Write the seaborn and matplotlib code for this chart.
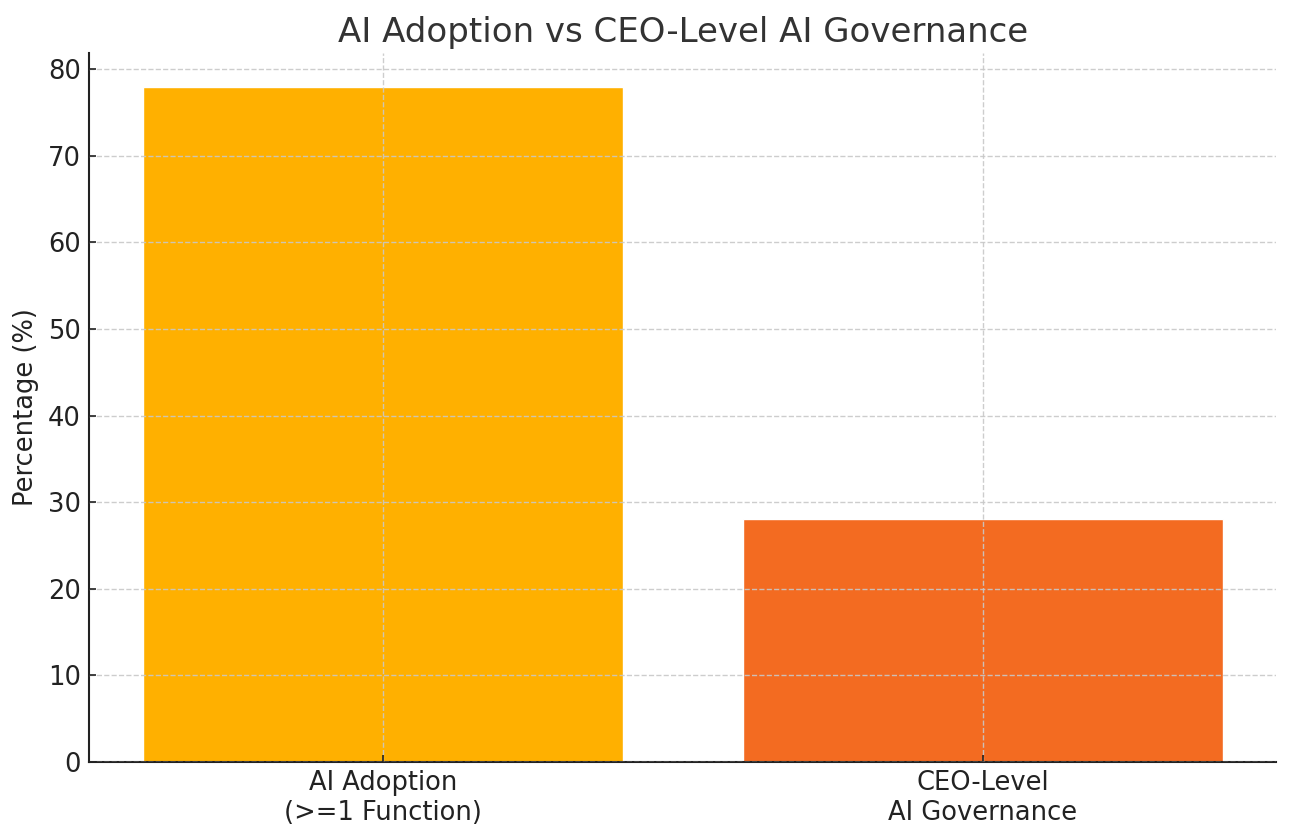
import matplotlib
matplotlib.use("Agg")
import matplotlib.pyplot as plt
import seaborn as sns
import pandas as pd

categories = ["AI Adoption\n(>=1 Function)", "CEO-Level\nAI Governance"]
values = [78, 28]
colors = ["#FFB000", "#F36B21"]

sns.set_style("ticks")
plt.rcParams['font.family'] = ['DejaVu Sans']

df = pd.DataFrame({"cat": categories, "val": values})

fig, ax = plt.subplots(figsize=(12.92, 8.39), dpi=100)
sns.barplot(data=df, x="cat", y="val", hue="cat", palette=colors, legend=False,
            width=0.8, saturation=1, ax=ax)
ax.set_xlim(-0.49, 1.49)
ax.set_ylim(0, 81.9)
ax.set_axisbelow(False)
ax.grid(True, linestyle="--", color="#c8c8c8", linewidth=1.0, alpha=0.9)
sns.despine(ax=ax)
for s in ["left", "bottom"]:
    ax.spines[s].set_color("#222222")
    ax.spines[s].set_linewidth(1.5)
ax.set_title("AI Adoption vs CEO-Level AI Governance", fontsize=24.5, color="#333333", pad=8)
ax.set_xlabel("")
ax.set_ylabel("Percentage (%)", fontsize=18.5, color="#222222", labelpad=6)
ax.tick_params(axis="both", labelsize=18.5, colors="#222222", length=5, width=1.2,
               direction="in", pad=6)
ax.set_yticks([0, 10, 20, 30, 40, 50, 60, 70, 80])

fig.subplots_adjust(left=0.069, right=0.988, top=0.937, bottom=0.092)
fig.savefig("out.png", dpi=100)
